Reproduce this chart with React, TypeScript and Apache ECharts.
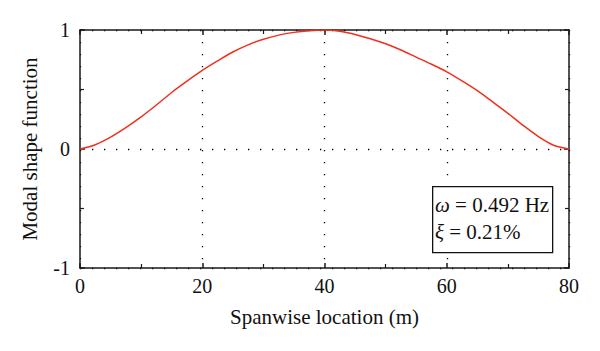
import React, { useEffect, useRef } from "react";
import * as echarts from "echarts";

const xValues = [0, 2.5, 5, 7.5, 10, 12.5, 15, 17.5, 20, 22.5, 25, 27.5, 30, 32.5, 35, 37.5, 40, 42.5, 45, 47.5, 50, 52.5, 55, 57.5, 60, 62.5, 65, 67.5, 70, 72.5, 75, 77.5, 80];
const modeValues = [0, 0.036, 0.1, 0.18, 0.27, 0.37, 0.475, 0.57, 0.66, 0.74, 0.815, 0.875, 0.922, 0.957, 0.98, 0.994, 1.0, 0.99, 0.963, 0.927, 0.884, 0.832, 0.772, 0.712, 0.648, 0.572, 0.49, 0.396, 0.3, 0.198, 0.105, 0.032, 0];
const xTickLabels = ["0", "20", "40", "60", "80"];
const yTickLabels = ["-1", "0", "1"];
const xAxisTitle = "Spanwise location (m)";
const yAxisTitle = "Modal shape function";
const annotationLines = ["{i|ω} = 0.492 Hz", "{i|ξ} = 0.21%"];

const FONT = "Liberation Serif";
const AXIS_COLOR = "#1a1a1a";

export default function App() {
  const ref = useRef<HTMLDivElement>(null);
  useEffect(() => {
    if (!ref.current) return;
    const chart = echarts.init(ref.current, null, { renderer: "svg" });
    const data = xValues.map((x, i) => [x, modeValues[i]]);
    const axisLine = { show: true, onZero: false, lineStyle: { color: AXIS_COLOR, width: 1.5 } };
    const dotted = { show: true, lineStyle: { color: "#000", width: 1.3, type: [1.3, 10.7] as any } };
    const tick = { show: true, inside: true, length: 5, lineStyle: { color: AXIS_COLOR, width: 1.5 } };
    const minor = { show: true, splitNumber: 2, length: 4, lineStyle: { color: AXIS_COLOR, width: 1.2 } };
    const option: any = {
      animation: false,
      backgroundColor: "#fff",
      grid: { left: 80, right: 31, top: 30, bottom: 83, containLabel: false },
      xAxis: [
        {
          type: "value",
          min: 0,
          max: 80,
          interval: 20,
          position: "bottom",
          name: xAxisTitle,
          nameLocation: "middle",
          nameGap: 38,
          nameTextStyle: { fontFamily: FONT, fontSize: 21, color: "#111" },
          axisLine,
          axisTick: tick,
          minorTick: minor,
          axisLabel: {
            fontFamily: FONT,
            fontSize: 20,
            color: "#111",
            margin: 8,
            formatter: (v: number) => xTickLabels[Math.round(v / 20)] ?? "",
          },
          splitLine: dotted,
        },
        {
          type: "value",
          min: 0,
          max: 80,
          interval: 20,
          position: "top",
          axisLine,
          axisTick: tick,
          minorTick: minor,
          axisLabel: { show: false },
          splitLine: { show: false },
        },
      ],
      yAxis: [
        {
          type: "value",
          min: -1,
          max: 1,
          interval: 1,
          position: "left",
          name: yAxisTitle,
          nameLocation: "middle",
          nameGap: 40,
          nameTextStyle: { fontFamily: FONT, fontSize: 21, color: "#111" },
          axisLine,
          axisTick: tick,
          minorTick: minor,
          axisLabel: {
            fontFamily: FONT,
            fontSize: 20,
            color: "#111",
            margin: 10,
            formatter: (v: number) => yTickLabels[Math.round(v + 1)] ?? "",
          },
          splitLine: dotted,
        },
        {
          type: "value",
          min: -1,
          max: 1,
          interval: 1,
          position: "right",
          axisLine,
          axisTick: tick,
          minorTick: minor,
          axisLabel: { show: false },
          splitLine: { show: false },
        },
      ],
      series: [
        {
          type: "line",
          xAxisIndex: 0,
          yAxisIndex: 0,
          data,
          smooth: 0.3,
          showSymbol: false,
          symbol: "none",
          lineStyle: { color: "#f0301e", width: 1.5 },
          z: 5,
        },
      ],
      graphic: [
        {
          type: "rect",
          left: 432,
          top: 186,
          shape: { width: 120, height: 66 },
          style: { fill: "#fff", stroke: "#111", lineWidth: 1.3 },
          z: 10,
        },
        {
          type: "text",
          left: 435,
          top: 191,
          z: 11,
          style: {
            text: annotationLines.join("\n"),
            fontFamily: FONT,
            fontSize: 21,
            lineHeight: 27,
            fill: "#111",
            rich: {
              i: { fontFamily: FONT, fontSize: 21, fontStyle: "italic", fill: "#111" },
            },
          },
        },
      ],
    };
    chart.setOption(option);
    return () => chart.dispose();
  }, []);
  return (
    <div
      ref={ref}
      style={{ position: "absolute", left: 0, top: 0, width: 600, height: 351 }}
    />
  );
}
